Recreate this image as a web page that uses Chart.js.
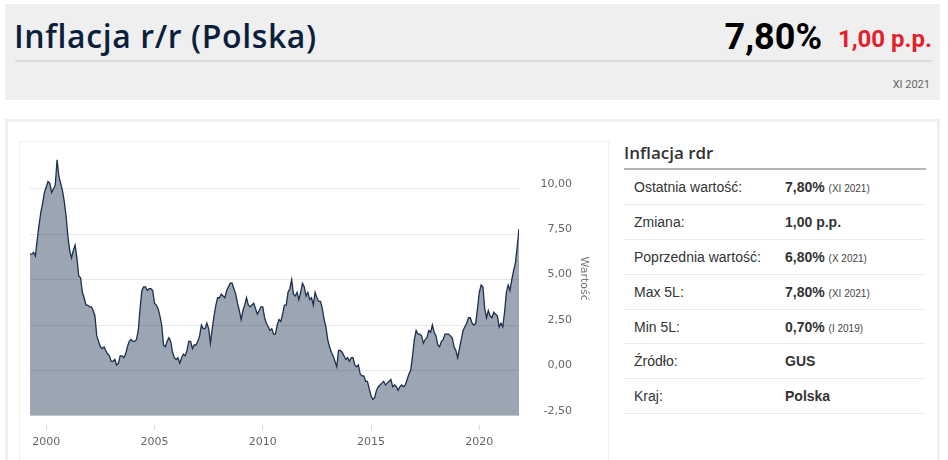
<!DOCTYPE html>
<html lang="pl">
<head>
<meta charset="utf-8">
<title>Inflacja r/r (Polska)</title>
<script src="https://cdn.jsdelivr.net/npm/chart.js@4.4.1/dist/chart.umd.min.js"></script>
<style>
  html, body { margin: 0; padding: 0; background: #fff; overflow: hidden; }
  body { width: 948px; height: 460px; position: relative; font-family: "Liberation Sans", Arial, sans-serif; color: #333; }
  .naglowek { position: absolute; left: 5px; top: 4px; width: 935px; height: 96px; background: #efefef; }
  .tytul { position: absolute; left: 9px; top: 10px; font-family: "Open Sans", sans-serif; font-weight: 600; font-size: 32px; letter-spacing: 0.6px; color: #0b1f3d; white-space: nowrap; }
  .wartosc { position: absolute; right: 118px; top: 12px; font-family: "Roboto", sans-serif; font-weight: bold; font-size: 36px; color: #000; white-space: nowrap; }
  .zmiana { position: absolute; right: 8px; top: 21px; font-family: "Roboto", sans-serif; font-weight: bold; font-size: 24px; color: #e3202b; white-space: nowrap; }
  .kreska { position: absolute; left: 10px; top: 56px; width: 917px; height: 2px; background: #dcdcdc; }
  .data { position: absolute; right: 10px; top: 74px; font-family: "Roboto", sans-serif; font-size: 11px; color: #666; }
  .panel { position: absolute; left: 5px; top: 119px; width: 929px; height: 400px; border: 3px solid #efefef; }
  .ramka { position: absolute; left: 19px; top: 141px; width: 588px; height: 400px; border: 1px solid #f0f0f0; }
  .wykres { position: absolute; left: 20px; top: 134px; width: 588px; height: 326px; }
  .info { position: absolute; left: 624px; top: 140px; width: 302px; }
  .info h3 { margin: 0; height: 28px; font-family: "Open Sans", sans-serif; font-weight: 600; font-size: 17px; line-height: 26px; color: #333; border-bottom: 2px solid #b5b5b5; }
  .info table { border-collapse: collapse; width: 100%; font-size: 14px; }
  .info td { height: 33.9px; padding: 0; border-bottom: 1px solid #ececec; }
  .info td.k { padding-left: 10px; width: 151px; }
  .info td.v { font-weight: bold; }
  .info small { font-weight: normal; font-size: 10px; color: #444; }
</style>
</head>
<body>
<div class="naglowek">
  <div class="tytul">Inflacja r/r (Polska)</div>
  <div class="wartosc">7,80%</div>
  <div class="zmiana">1,00 p.p.</div>
  <div class="kreska"></div>
  <div class="data">XI 2021</div>
</div>
<div class="panel"></div>
<div class="ramka"></div>
<div class="wykres"><canvas id="wykres"></canvas></div>
<div class="info">
  <h3>Inflacja rdr</h3>
  <table>
    <tr><td class="k">Ostatnia wartość:</td><td class="v">7,80% <small>(XI 2021)</small></td></tr>
    <tr><td class="k">Zmiana:</td><td class="v">1,00 p.p.</td></tr>
    <tr><td class="k">Poprzednia wartość:</td><td class="v">6,80% <small>(X 2021)</small></td></tr>
    <tr><td class="k">Max 5L:</td><td class="v">7,80% <small>(XI 2021)</small></td></tr>
    <tr><td class="k">Min 5L:</td><td class="v">0,70% <small>(I 2019)</small></td></tr>
    <tr><td class="k">Źródło:</td><td class="v">GUS</td></tr>
    <tr><td class="k">Kraj:</td><td class="v">Polska</td></tr>
  </table>
</div>
<script>
// pierwszy miesiąc serii: IV 1999
const startRok = 1999;
const startMiesiac = 4;

// inflacja r/r w %, miesięcznie od IV 1999 do XI 2021
const wartosci = [
  6.4, 6.4, 6.5, 6.3, 7.2, 8.0, 8.7, 9.2, 9.8,                 // 1999
  10.1, 10.4, 10.3, 9.8, 10.0, 10.2, 11.6, 10.7, 10.3, 9.9, 9.3, 8.5, // 2000
  7.4, 6.6, 6.2, 6.6, 6.9, 6.2, 5.2, 5.1, 4.3, 4.0, 3.6, 3.6,   // 2001
  3.5, 3.5, 3.3, 3.0, 1.9, 1.6, 1.3, 1.2, 1.3, 1.1, 0.9, 0.8,   // 2002
  0.5, 0.5, 0.6, 0.3, 0.4, 0.8, 0.8, 0.7, 0.9, 1.3, 1.6, 1.7,   // 2003
  1.6, 1.6, 1.7, 2.2, 3.4, 4.4, 4.6, 4.6, 4.4, 4.5, 4.5, 4.4,   // 2004
  3.7, 3.6, 3.4, 3.0, 2.5, 1.4, 1.3, 1.6, 1.8, 1.6, 1.0, 0.7,   // 2005
  0.6, 0.7, 0.4, 0.7, 0.9, 0.8, 1.1, 1.6, 1.6, 1.2, 1.4, 1.4,   // 2006
  1.6, 1.9, 2.5, 2.3, 2.3, 2.6, 2.3, 1.5, 2.3, 3.0, 3.6, 4.0,   // 2007
  4.0, 4.2, 4.1, 4.0, 4.4, 4.6, 4.8, 4.8, 4.5, 4.2, 3.7, 3.3,   // 2008
  2.8, 3.3, 3.6, 4.0, 3.6, 3.5, 3.6, 3.7, 3.4, 3.1, 3.3, 3.5,   // 2009
  3.5, 2.9, 2.6, 2.4, 2.2, 2.3, 2.0, 2.0, 2.5, 2.8, 2.7, 3.1,   // 2010
  3.6, 3.6, 4.3, 4.5, 5.0, 4.2, 4.1, 4.3, 3.9, 4.3, 4.8, 4.6,   // 2011
  4.1, 4.3, 3.9, 4.0, 3.6, 4.3, 4.0, 3.8, 3.8, 3.4, 2.8, 2.4,   // 2012
  1.7, 1.3, 1.0, 0.8, 0.5, 0.2, 1.1, 1.1, 1.0, 0.8, 0.6, 0.7,   // 2013
  0.5, 0.7, 0.7, 0.3, 0.2, 0.3, -0.2, -0.3, -0.3, -0.6, -0.6, -1.0, // 2014
  -1.4, -1.6, -1.5, -1.1, -0.9, -0.8, -0.7, -0.6, -0.8, -0.7, -0.6, -0.5, // 2015
  -0.9, -0.8, -0.9, -1.1, -0.9, -0.8, -0.9, -0.8, -0.5, -0.2, 0.0, 0.8, // 2016
  1.7, 2.2, 2.0, 2.0, 1.9, 1.5, 1.7, 1.8, 2.2, 2.1, 2.5, 2.1,   // 2017
  1.9, 1.4, 1.3, 1.6, 1.7, 2.0, 2.0, 2.0, 1.9, 1.8, 1.3, 1.1,   // 2018
  0.7, 1.2, 1.7, 2.2, 2.4, 2.6, 2.9, 2.9, 2.6, 2.5, 2.6, 3.4,   // 2019
  4.3, 4.7, 4.6, 3.4, 2.9, 3.3, 3.0, 2.9, 3.2, 3.1, 3.0, 2.4,   // 2020
  2.6, 2.4, 3.2, 4.3, 4.7, 4.4, 5.0, 5.5, 5.9, 6.8, 7.8         // 2021
];

// etykiety osi
const rokiOsi = [2000, 2005, 2010, 2015, 2020];
const wartosciOsi = [-2.5, 0, 2.5, 5, 7.5, 10];

const punkty = wartosci.map((v, i) => ({
    x: startRok + (startMiesiac - 1 + i) / 12,
    y: v
}));

const czcionka = { family: '"DejaVu Sans", sans-serif', size: 11 };

function main() {
    const ctx = document.getElementById('wykres').getContext('2d');
    const ostatni = punkty[punkty.length - 1].x;

    window.wykresInflacji = new Chart(ctx, {
        type: 'line',
        data: {
            datasets: [{
                label: 'Wartość',
                data: punkty,
                borderColor: '#1c2f4f',
                borderWidth: 1.3,
                backgroundColor: 'rgba(30,50,80,0.44)',
                fill: 'start',
                tension: 0,
                pointRadius: 0
            }]
        },
        options: {
            animation: false,
            responsive: true,
            maintainAspectRatio: false,
            layout: { padding: { left: 10, right: 36, top: 0, bottom: 5 } },
            plugins: {
                legend: { display: false },
                tooltip: { enabled: false }
            },
            scales: {
                x: {
                    type: 'linear',
                    min: punkty[0].x,
                    max: ostatni,
                    afterBuildTicks: (s) => { s.ticks = rokiOsi.map(r => ({ value: r })); },
                    ticks: {
                        color: '#666',
                        font: czcionka,
                        padding: 6,
                        maxRotation: 0,
                        callback: (v) => String(v)
                    },
                    grid: {
                        drawOnChartArea: false,
                        drawTicks: true,
                        tickLength: 14,
                        tickColor: '#ccd6eb',
                        tickWidth: 1,
                        tickBorderDash: [0, 9, 5, 100]
                    },
                    border: { display: false }
                },
                y: {
                    position: 'right',
                    min: -2.5,
                    max: 12.6,
                    afterBuildTicks: (s) => { s.ticks = wartosciOsi.map(v => ({ value: v })); },
                    afterFit: (s) => { s.width = 53; },
                    ticks: {
                        color: '#666',
                        font: czcionka,
                        padding: 1,
                        crossAlign: 'far',
                        labelOffset: -5,
                        callback: (v) => v.toFixed(2).replace('.', ',')
                    },
                    title: {
                        display: true,
                        text: 'Wartość',
                        color: '#777',
                        font: { family: '"DejaVu Sans", sans-serif', size: 11 },
                        padding: { top: -18, bottom: 0 }
                    },
                    grid: {
                        color: '#e6e6e6',
                        drawTicks: false
                    },
                    border: { display: false }
                }
            }
        }
    });
}

window.addEventListener('DOMContentLoaded', main);
</script>
</body>
</html>
